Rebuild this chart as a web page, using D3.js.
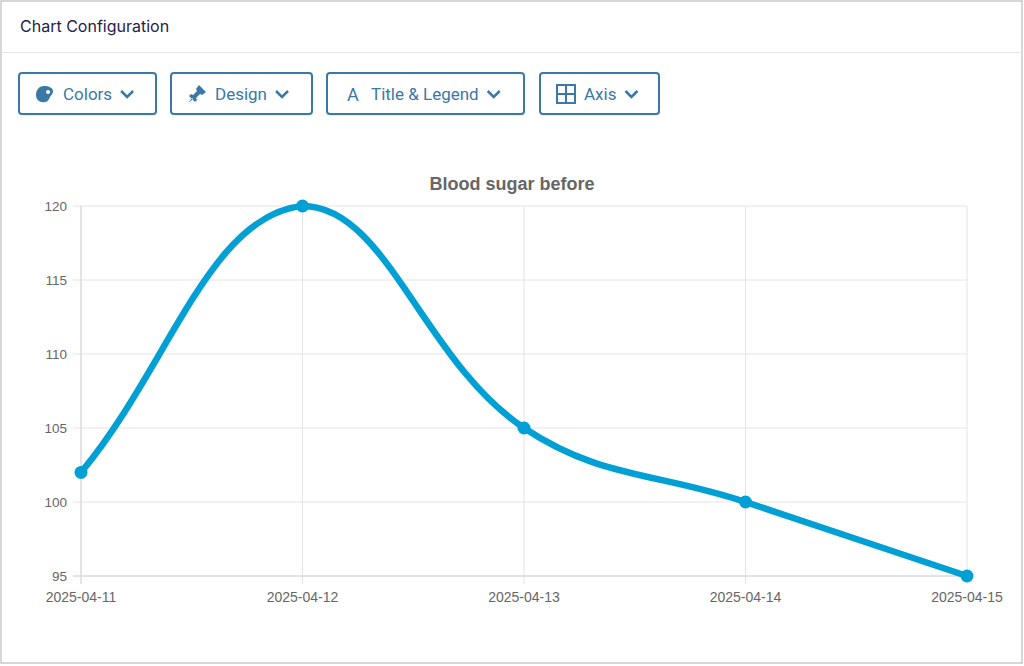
<!DOCTYPE html>
<html>
<head>
<meta charset="utf-8">
<script src="https://cdn.jsdelivr.net/npm/d3@7"></script>
<style>
html,body{margin:0;padding:0;background:#fff;}
svg{display:block;}
</style>
</head>
<body>
<svg id="c" width="1024" height="666"></svg>
<script>
const categories = ["2025-04-11","2025-04-12","2025-04-13","2025-04-14","2025-04-15"];
const values = [102, 120, 105, 100, 95];
const yTicks = [95, 100, 105, 110, 115, 120];
const chartTitle = "Blood sugar before";
const headerTitle = "Chart Configuration";
const buttons = ["Colors", "Design", "Title & Legend", "Axis"];

const svg = d3.select("#c");
const W = 1024, H = 666;

// frame
svg.append("rect").attr("x",1).attr("y",1).attr("width",1021).attr("height",662)
  .attr("fill","#fff").attr("stroke","#c9c9c9").attr("stroke-width",1.5);
svg.append("line").attr("x1",2).attr("x2",1021).attr("y1",52.5).attr("y2",52.5)
  .attr("stroke","#e6e6ea").attr("stroke-width",1);
svg.append("text").attr("x",20).attr("y",32).text(headerTitle)
  .attr("font-family","Inter, 'Noto Sans', sans-serif").attr("font-size",16)
  .attr("fill","#22224a");

// buttons
const btnColor = "#3a78a8";
const btnX = [19, 171, 327, 540];
const btnW = [137, 141, 197, 119];
buttons.forEach((b,i)=>{
  const g = svg.append("g").attr("transform",`translate(${btnX[i]},73)`);
  g.append("rect").attr("x",1).attr("y",2).attr("width",btnW[i]).attr("height",41).attr("rx",3)
    .attr("fill","#000").attr("opacity",0.06);
  g.append("rect").attr("x",0).attr("y",0).attr("width",btnW[i]).attr("height",41).attr("rx",3)
    .attr("fill","#fff").attr("stroke",btnColor).attr("stroke-width",2);
  const ic = g.append("g").attr("transform","translate(26,21)").attr("fill",btnColor).attr("stroke",btnColor);
  let tx = 44;
  if(i===0){
    ic.append("path").attr("stroke","none")
      .attr("d","M-1,-8 C-6,-8 -9,-4 -9,1 C-9,6 -5,9 0,8 C3,8 4,5 5,3 C6,1 8,0 8,-3 C8,-6 4,-8 -1,-8 Z M3,-4 a2,2 0 1,0 0.01,0 Z")
      .attr("fill-rule","evenodd");
  } else if(i===1){
    ic.append("path").attr("stroke","none")
      .attr("d","M2,-9 L9,-2 L5,1 L3,0 L-1,4 L0,6 L-2,8 L-8,2 L-6,0 L-4,1 L0,-3 L-1,-5 Z M-5,4 L-9,9 L-4,5 Z");
  } else if(i===2){
    ic.append("text").attr("x",-6).attr("y",7).attr("stroke","none").text("A")
      .attr("font-family","Roboto, 'Noto Sans', sans-serif").attr("font-size",18);
  } else {
    ic.attr("fill","none").attr("stroke-width",2);
    ic.append("rect").attr("x",-9).attr("y",-9).attr("width",18).attr("height",18);
    ic.append("line").attr("x1",0).attr("x2",0).attr("y1",-9).attr("y2",9);
    ic.append("line").attr("x1",-9).attr("x2",9).attr("y1",0).attr("y2",0);
  }
  const t = g.append("text").attr("x",tx).attr("y",27).text(b)
    .attr("font-family","Roboto, 'Noto Sans', sans-serif").attr("font-size",17).attr("fill",btnColor);
  const tw = t.node().getComputedTextLength();
  const cx = tx + tw + 15;
  g.append("path").attr("d",`M${cx-6},${18} L${cx},${24} L${cx+6},${18}`)
    .attr("fill","none").attr("stroke",btnColor).attr("stroke-width",2.5);
});

// chart
const area = {left:81, right:967, top:206, bottom:576};
const x = d3.scalePoint().domain(categories).range([area.left, area.right]);
const y = d3.scaleLinear().domain([95,120]).range([area.bottom, area.top]);

const grid = svg.append("g");
yTicks.forEach(v=>{
  grid.append("line").attr("x1",area.left-8).attr("x2",area.right).attr("y1",y(v)).attr("y2",y(v))
    .attr("stroke", "#e4e4e4").attr("stroke-width",1);
});
categories.forEach(c=>{
  grid.append("line").attr("x1",x(c)).attr("x2",x(c)).attr("y1",area.top).attr("y2",area.bottom+8)
    .attr("stroke","#e4e4e4").attr("stroke-width",1);
});
svg.append("line").attr("x1",area.left).attr("x2",area.left).attr("y1",area.top).attr("y2",area.bottom+8).attr("stroke","#d6d6d6");
svg.append("line").attr("x1",area.left-8).attr("x2",area.right).attr("y1",area.bottom).attr("y2",area.bottom).attr("stroke","#d6d6d6");

const font = "'Liberation Sans', Arial, sans-serif";
svg.append("g").selectAll("text").data(yTicks).join("text")
  .attr("x",area.left-14).attr("y",d=>y(d)+5).attr("text-anchor","end")
  .attr("font-family",font).attr("font-size",13.5).attr("fill","#666").text(d=>d);
svg.append("g").selectAll("text").data(categories).join("text")
  .attr("x",d=>x(d)).attr("y",area.bottom+26).attr("text-anchor","middle")
  .attr("font-family",font).attr("font-size",14).attr("fill","#666").text(d=>d);

svg.append("text").attr("x",512).attr("y",190).attr("text-anchor","middle")
  .attr("font-family",font).attr("font-weight","bold").attr("font-size",18).attr("fill","#666").text(chartTitle);

// Chart.js-like spline curve (tension 0.4, capped to chart area)
function chartjsCurve(context){
  let pts = [];
  const tension = 0.4;
  const cap = (p)=>[Math.max(area.left, Math.min(area.right, p[0])), Math.max(area.top, Math.min(area.bottom, p[1]))];
  return {
    areaStart(){}, areaEnd(){},
    lineStart(){ pts = []; },
    point(px,py){ pts.push([+px,+py]); },
    lineEnd(){
      const n = pts.length;
      const cps = pts.map((cur,i)=>{
        const prev = pts[Math.max(0,i-1)], next = pts[Math.min(n-1,i+1)];
        const d01 = Math.hypot(cur[0]-prev[0], cur[1]-prev[1]);
        const d12 = Math.hypot(next[0]-cur[0], next[1]-cur[1]);
        let s01 = d01/(d01+d12), s12 = d12/(d01+d12);
        if(!isFinite(s01)) s01 = 0; if(!isFinite(s12)) s12 = 0;
        const fa = tension*s01, fb = tension*s12;
        return {
          prev: cap([cur[0]-fa*(next[0]-prev[0]), cur[1]-fa*(next[1]-prev[1])]),
          next: cap([cur[0]+fb*(next[0]-prev[0]), cur[1]+fb*(next[1]-prev[1])])
        };
      });
      context.moveTo(pts[0][0], pts[0][1]);
      for(let i=1;i<n;i++){
        context.bezierCurveTo(cps[i-1].next[0], cps[i-1].next[1], cps[i].prev[0], cps[i].prev[1], pts[i][0], pts[i][1]);
      }
    }
  };
}

const data = categories.map((c,i)=>({c, v: values[i]}));
const lineColor = "#00a0d4";
svg.append("path").datum(data)
  .attr("d", d3.line().x(d=>x(d.c)).y(d=>y(d.v)).curve(chartjsCurve))
  .attr("fill","none").attr("stroke",lineColor).attr("stroke-width",6.5)
  .attr("stroke-linejoin","round").attr("stroke-linecap","round");
svg.append("g").selectAll("circle").data(data).join("circle")
  .attr("cx",d=>x(d.c)).attr("cy",d=>y(d.v)).attr("r",6.5).attr("fill",lineColor);
</script>
</body>
</html>
